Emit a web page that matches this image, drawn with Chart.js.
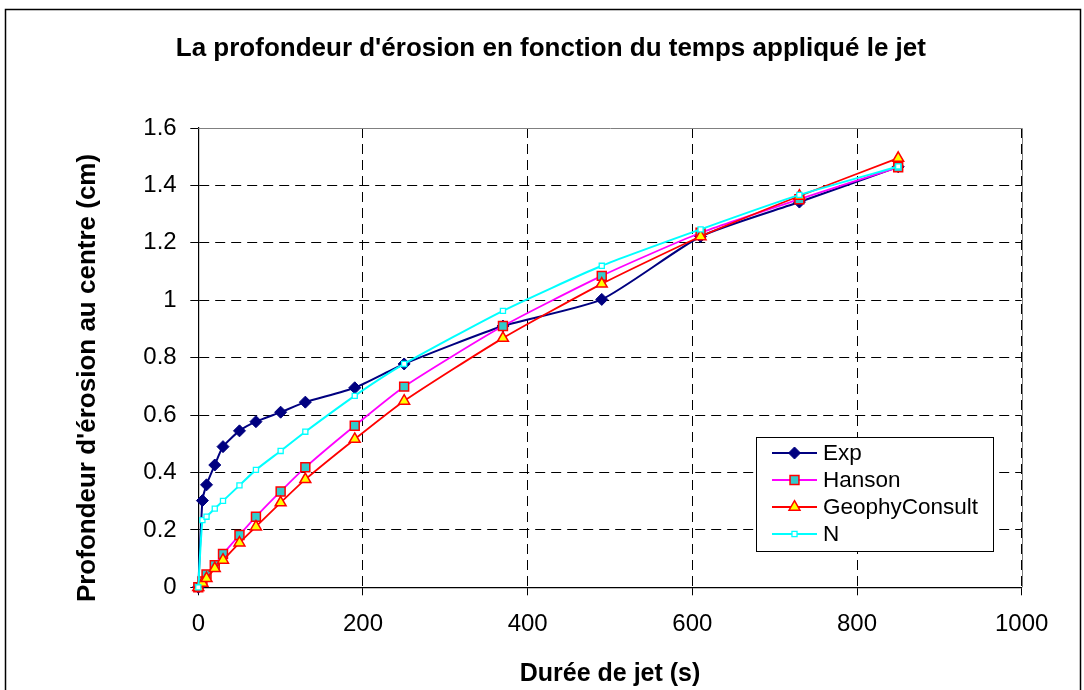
<!DOCTYPE html>
<html>
<head>
<meta charset="utf-8">
<script src="https://cdn.jsdelivr.net/npm/chart.js@4/dist/chart.umd.min.js"></script>
<style>
  html, body { margin: 0; padding: 0; background: #fff; }
  canvas { display: block; }
</style>
</head>
<body>
<canvas id="grafico" width="1084" height="690"></canvas>
<script>
// durée de jet (s)
const temps = [0, 5, 10, 20, 30, 50, 70, 100, 130, 190, 250, 370, 490, 610, 730, 850];
// profondeur (cm)
const expVals    = [0, 0.302, 0.357, 0.426, 0.490, 0.545, 0.577, 0.610, 0.645, 0.695, 0.778, 0.910, 1.003, 1.222, 1.342, 1.465];
const hansonVals = [0, 0.020, 0.045, 0.077, 0.116, 0.182, 0.246, 0.334, 0.418, 0.563, 0.699, 0.910, 1.085, 1.235, 1.352, 1.463];
const geophyVals = [0, 0.015, 0.031, 0.066, 0.095, 0.155, 0.211, 0.295, 0.376, 0.516, 0.649, 0.868, 1.057, 1.222, 1.363, 1.495];
const nVals      = [0, 0.234, 0.246, 0.274, 0.301, 0.355, 0.409, 0.475, 0.542, 0.667, 0.778, 0.963, 1.120, 1.247, 1.367, 1.466];

const seriesNames = ["Exp", "Hanson", "GeophyConsult", "N"];
const yTitre = "Profondeur d'érosion au centre (cm)";

Chart.defaults.font.family = "'Liberation Sans', Arial, sans-serif";
Chart.defaults.color = "#000";

const pts = (vals) => temps.map((t, i) => ({ x: t, y: vals[i] }));

// cadre extérieur + fond + bord haut/droite de la zone de tracé
const cadre = {
  id: "cadre",
  beforeDraw(chart) {
    const c = chart.ctx;
    c.save();
    c.fillStyle = "#fff";
    c.fillRect(0, 0, chart.width, chart.height);
    c.strokeStyle = "#000";
    c.lineWidth = 1.5;
    c.strokeRect(5.5, 9.5, 1075, 700);
    c.restore();
  },
  beforeDatasetsDraw(chart) {
    const a = chart.chartArea;
    const c = chart.ctx;
    c.save();
    c.strokeStyle = "#808080";
    c.lineWidth = 1;
    c.beginPath();
    c.moveTo(a.left, Math.round(a.top) + 0.5);
    c.lineTo(Math.round(a.right) + 0.5, Math.round(a.top) + 0.5);
    c.lineTo(Math.round(a.right) + 0.5, a.bottom);
    c.stroke();
    // titre de l'axe vertical
    c.translate(88, 378);
    c.rotate(-Math.PI / 2);
    c.font = "bold 26px 'Liberation Sans', Arial, sans-serif";
    c.fillStyle = "#000";
    c.textAlign = "center";
    c.textBaseline = "middle";
    c.fillText(yTitre, 0, 0);
    c.restore();
  }
};

// légende dans la zone de tracé
const legende = {
  id: "legende",
  afterDatasetsDraw(chart) {
    const c = chart.ctx;
    const bx = 756, by = 437, bw = 237, bh = 114;
    c.save();
    c.fillStyle = "#fff";
    c.fillRect(bx, by, bw, bh);
    c.strokeStyle = "#000";
    c.lineWidth = 1;
    c.strokeRect(bx + 0.5, by + 0.5, bw, bh);
    c.font = "22.5px 'Liberation Sans', Arial, sans-serif";
    c.textBaseline = "middle";
    chart.data.datasets.forEach((ds, i) => {
      const y = 453 + i * 27;
      c.strokeStyle = ds.borderColor;
      c.lineWidth = ds.borderWidth;
      c.beginPath();
      c.moveTo(772, y);
      c.lineTo(817, y);
      c.stroke();
      c.fillStyle = ds.pointBackgroundColor;
      c.strokeStyle = ds.pointBorderColor;
      c.lineWidth = ds.pointBorderWidth;
      Chart.helpers.drawPoint(c, {
        pointStyle: ds.pointStyle, radius: ds.pointRadius, rotation: 0, borderWidth: ds.pointBorderWidth
      }, 794.5, y);
      c.fillStyle = "#000";
      c.fillText(ds.label, 823, y + 1);
    });
    c.restore();
  }
};

const canvas = document.getElementById("grafico").getContext("2d");

const chart = new Chart(canvas, {
  type: "line",
  data: {
    datasets: [
      {
        label: seriesNames[0], data: pts(expVals), order: 4, clip: false,
        borderColor: "#000080", borderWidth: 2, tension: 0.2,
        pointStyle: "rectRot", pointRadius: 6, pointBackgroundColor: "#000080",
        pointBorderColor: "#000080", pointBorderWidth: 1
      },
      {
        label: seriesNames[1], data: pts(hansonVals), order: 3, clip: false,
        borderColor: "#FF00FF", borderWidth: 1.8, tension: 0.2,
        pointStyle: "rect", pointRadius: 6.3, pointBackgroundColor: "#33CCCC",
        pointBorderColor: "#FF0000", pointBorderWidth: 1.5
      },
      {
        label: seriesNames[2], data: pts(geophyVals), order: 2, clip: false,
        borderColor: "#FF0000", borderWidth: 1.8, tension: 0.2,
        pointStyle: "triangle", pointRadius: 6.3, pointBackgroundColor: "#FFFF00",
        pointBorderColor: "#FF0000", pointBorderWidth: 1.5
      },
      {
        label: seriesNames[3], data: pts(nVals), order: 1, clip: false,
        borderColor: "#00FFFF", borderWidth: 2, tension: 0.2,
        pointStyle: "rect", pointRadius: 3.6, pointBackgroundColor: "#FFFFFF",
        pointBorderColor: "#00FFFF", pointBorderWidth: 1.3
      }
    ]
  },
  options: {
    responsive: false,
    animation: false,
    layout: { padding: { left: 80, right: 62.3, top: 0, bottom: 0 } },
    plugins: {
      legend: { display: false },
      tooltip: { enabled: false },
      title: {
        display: true,
        text: "La profondeur d'érosion en fonction du temps appliqué le jet",
        font: { size: 26, weight: "bold" },
        color: "#000",
        padding: { top: 33.4, bottom: 63.4 }
      }
    },
    scales: {
      x: {
        type: "linear", min: 0, max: 1000,
        afterFit: (s) => { s.height = 102.7; },
        ticks: { stepSize: 200, padding: 15, font: { size: 24 }, color: "#000",
                 callback: (v) => String(v), maxRotation: 0 },
        grid: { color: "#000", lineWidth: 1, tickLength: 8, tickColor: "#000", tickWidth: 1 },
        border: { color: "#000", width: 1.2, dash: [10, 6] },
        title: { display: true, text: "Durée de jet (s)", font: { size: 25, weight: "bold" },
                 color: "#000", padding: { top: 0, bottom: 1.3 } }
      },
      y: {
        min: 0, max: 1.6,
        afterFit: (s) => { s.width = 118.3; },
        ticks: { stepSize: 0.2, padding: 13.6, font: { size: 24 }, color: "#000",
                 callback: (v) => String(Math.round(v * 10) / 10) },
        grid: { color: "#000", lineWidth: 1, tickLength: 8, tickColor: "#000", tickWidth: 1 },
        border: { color: "#000", width: 1.2, dash: [10, 6] },
        title: { display: false }
      }
    }
  },
  plugins: [cadre, legende]
});
</script>
</body>
</html>
